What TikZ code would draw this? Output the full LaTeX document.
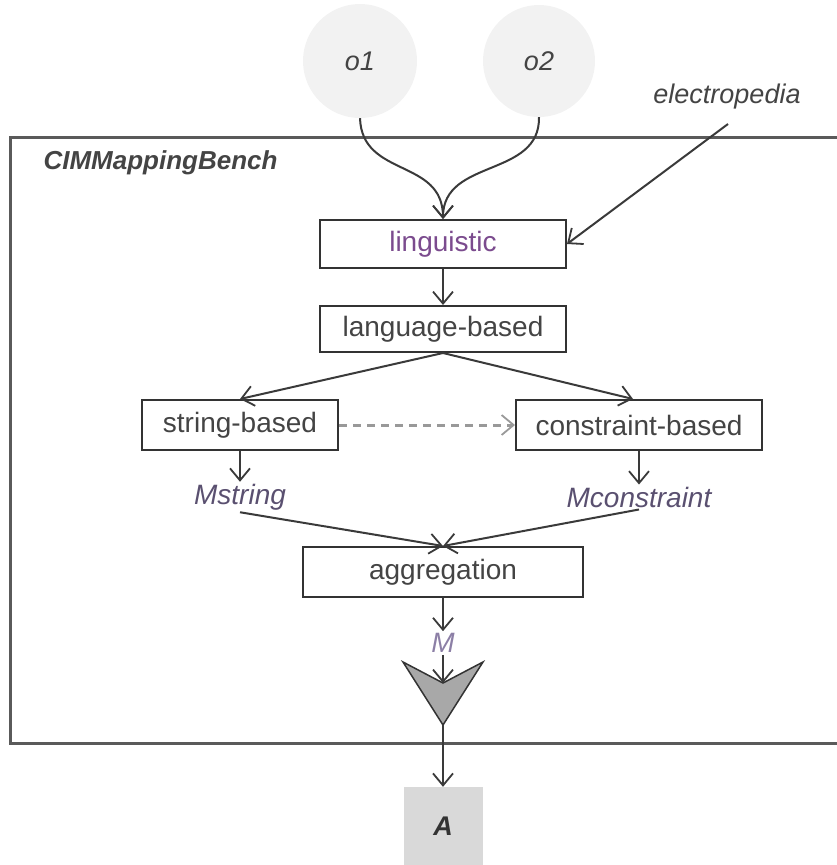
\documentclass[tikz,border=0pt]{standalone}
\usepackage{fontspec}
\setmainfont{Liberation Sans}
\usetikzlibrary{arrows.meta,calc}

\definecolor{linec}{HTML}{3A3A3A}
\definecolor{boxline}{HTML}{333333}
\definecolor{framec}{HTML}{5A5A5A}
\definecolor{textc}{HTML}{444444}
\definecolor{lingc}{HTML}{7B4B8E}
\definecolor{mtext}{HTML}{5A5070}
\definecolor{mlight}{HTML}{8C7FA6}
\definecolor{ontofill}{HTML}{F2F2F2}
\definecolor{alignfill}{HTML}{D9D9D9}
\definecolor{trifill}{HTML}{A8A8A8}
\definecolor{dashc}{HTML}{999999}

\tikzset{
  every node/.style={font=\fontsize{28}{32}\selectfont, text=textc},
  stepbox/.style={draw=boxline, line width=2pt, fill=white, inner sep=0pt},
  onto/.style={circle, fill=ontofill, inner sep=0pt, font=\fontsize{27}{31}\selectfont\itshape},
  mlabel/.style={inner sep=2pt, font=\fontsize{28}{32}\selectfont\itshape, text=mtext},
  barb/.style={-{Straight Barb[length=12pt,width=20pt,line width=1.8pt]}},
  flow/.style={draw=linec, line width=2pt, barb},
  hint/.style={draw=dashc, line width=3pt, dash pattern=on 8pt off 6pt, barb},
}

\begin{document}
\begin{tikzpicture}[x=1pt, y=-1pt]
  \useasboundingbox (0,0) rectangle (836,865);

  % enclosing CIMMappingBench frame (open to the right)
  \draw[framec, line width=3pt] (850,137) -| (10,743) -- (850,743);
  \node[anchor=west, font=\fontsize{26}{30}\selectfont\bfseries\itshape, text=textc] (bench) at (40,163) {CIMMappingBench};

  % input ontologies and external resource
  \node[onto, minimum size=114pt] (o1) at (360,61) {o1};
  \node[onto, minimum size=112pt] (o2) at (539,61) {o2};
  \node[mlabel, text=textc, font=\fontsize{27}{31}\selectfont\itshape] (ep) at (727,97) {electropedia};
  \coordinate (epfoot) at (728,124);

  % matcher steps
  \node[stepbox, minimum width=246pt, minimum height=48pt, text=lingc] (ling) at (443,244) {linguistic};
  \node[stepbox, minimum width=246pt, minimum height=46pt] (lang) at (443,329) {language-based};
  \node[stepbox, minimum width=196pt, minimum height=50pt] (str) at (240,425) {string-based};
  \node[stepbox, minimum width=246pt, minimum height=50pt] (con) at (639,425) {constraint-based};
  \node[mlabel] (ms) at (240,497) {Mstring};
  \node[mlabel] (mc) at (639,497) {Mconstraint};
  \node[stepbox, minimum width=280pt, minimum height=50pt] (agg) at (443,572) {aggregation};
  \node[mlabel, text=mlight] (m) at (443,643) {M};

  % output alignment
  \node[fill=alignfill, minimum width=79pt, minimum height=78pt, inner sep=0pt,
        font=\fontsize{27}{31}\selectfont\bfseries\itshape, text=boxline] (A) at (443,826) {A};

  % merge funnel
  \coordinate (trileft) at (403,662);
  \coordinate (notch) at (443,683);
  \coordinate (triright) at (483,662);
  \coordinate (tip) at (443,725);
  \draw[fill=trifill, draw=boxline, line width=1.5pt, line join=miter]
    (trileft) -- (notch) -- (triright) -- (tip) -- cycle;

  % connectors
  \draw[flow] (o1.south) .. controls (362,178) and (443,158) .. (ling.north);
  \draw[flow] (o2.south) .. controls (540,178) and (443,158) .. (ling.north);
  \draw[flow] (epfoot) -- (ling.east);
  \draw[flow] (ling.south) -- (lang.north);
  \draw[flow] (lang.south) -- (str.north);
  \draw[flow] (lang.south) -- ($(con.north)+(-6,0)$);
  \draw[hint] (str.east) -- (con.west);
  \draw[flow] (str.south) -- (ms.north);
  \draw[flow] (con.south) -- (mc.north);
  \draw[flow] (ms.south) -- (agg.north);
  \draw[flow] (mc.south) -- (agg.north);
  \draw[flow] (agg.south) -- (m.north);
  \draw[flow] (m.south) -- (notch);
  \draw[flow] (tip) -- (A.north);
\end{tikzpicture}
\end{document}
